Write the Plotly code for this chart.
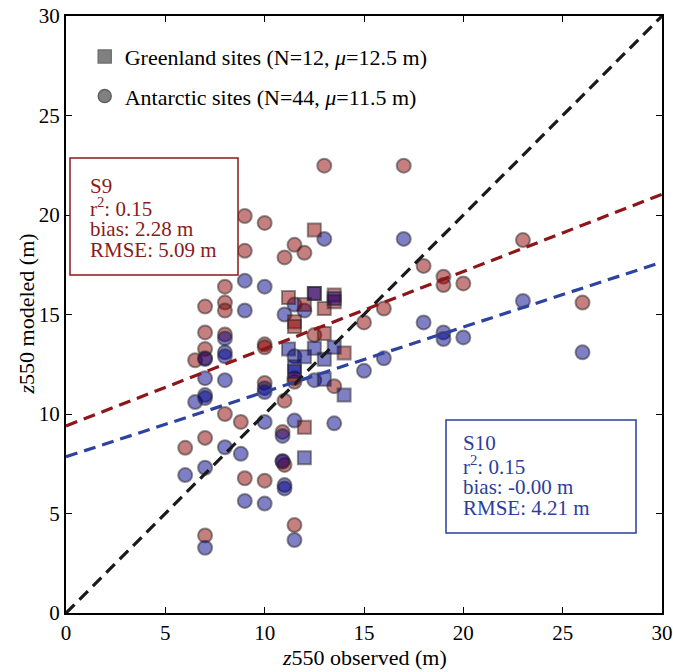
import plotly.graph_objects as go

# ---------------- data ----------------
# Antarctic sites (N=44): observed z550, modeled S9, modeled S10
ant_obs = [6.0, 6.5, 7.0, 7.0, 7.0, 7.0, 7.0, 7.0, 8.0, 8.0, 8.0, 8.0, 8.0,
           8.8, 9.0, 9.0, 9.0, 10.0, 10.0, 10.0, 10.0, 10.0, 11.0, 11.0, 10.9,
           10.9, 11.0, 11.5, 11.5, 11.5, 11.5, 12.0, 12.5, 13.0, 13.5, 15.0,
           16.0, 17.0, 18.0, 19.0, 19.0, 20.0, 23.0, 26.0]
ant_s9 = [8.3, 12.7, 15.4, 14.1, 13.27, 12.8, 8.8, 3.9, 16.4, 15.6, 15.2, 14.0, 10.0,
          9.6, 19.95, 18.2, 6.77, 19.6, 13.5, 13.35, 11.56, 6.65, 17.87, 10.67, 9.1,
          7.6, 7.44, 18.5, 11.62, 11.8, 4.42, 18.1, 13.97, 22.48, 11.4, 14.6,
          15.3, 22.48, 17.44, 16.9, 16.48, 16.56, 18.74, 15.6]
ant_s10 = [6.93, 10.6, 11.8, 12.76, 10.95, 10.8, 7.3, 3.28, 13.8, 13.1, 12.9, 11.7, 8.33,
           8.0, 16.7, 15.2, 5.63, 16.4, 11.3, 11.1, 9.6, 5.5, 15.0, 6.43, 8.9,
           7.64, 6.26, 15.5, 12.9, 9.67, 3.67, 15.2, 11.7, 18.8, 9.53, 12.17,
           12.8, 18.8, 14.6, 14.1, 13.77, 13.85, 15.68, 13.1]

# Greenland sites (N=12)
grl_obs = [11.2, 11.5, 11.5, 12.0, 12.0, 12.5, 12.5, 13.0, 13.0, 13.5, 13.5, 14.0]
grl_s9 = [15.85, 14.64, 14.4, 9.33, 15.5, 19.25, 16.06, 15.3, 14.05, 15.98, 15.64, 13.07]
grl_s10 = [13.27, 12.38, 12.13, 7.8, 12.88, 13.3, 16.06, 12.75, 11.74, 15.8, 13.35, 10.95]

# regression fits (intercept, slope)
fit_s9 = (9.4, 0.388)
fit_s10 = (7.85, 0.326)
axis_range = [0, 30]
ticks = [0, 5, 10, 15, 20, 25, 30]

stats_s9 = ["S9", "r<sup>2</sup>: 0.15", "bias: 2.28 m", "RMSE: 5.09 m"]
stats_s10 = ["S10", "r<sup>2</sup>: 0.15", "bias: -0.00 m", "RMSE: 4.21 m"]

# ---------------- styles ----------------
FONT = "Liberation Serif"
RED_FILL = "rgba(139,0,0,0.5)"
BLUE_FILL = "rgba(0,0,139,0.5)"
EDGE = "rgba(40,40,40,0.5)"
RED_LINE = "#8E1519"
BLUE_LINE = "#2E43A0"
RED_TXT = "#8B1A1A"
BLUE_TXT = "#2B3E9C"

# target plot area on screen (pixels); page body margin removed below
L, R, T, B = 66, 662, 16, 613
PW, PH = R - L, B - T
FW, FH = 673, 672

def px_x(p):
    return (p - L) / PW

def px_y(p):
    return (B - p) / PH

fig = go.Figure()

def pts(x, y, fill, symbol, size):
    return go.Scatter(x=x, y=y, mode="markers", showlegend=False, hoverinfo="skip",
                      marker=dict(symbol=symbol, size=size, color=fill,
                                  line=dict(color=EDGE, width=2)))

fig.add_trace(pts(ant_obs, ant_s9, RED_FILL, "circle", 14))
fig.add_trace(pts(ant_obs, ant_s10, BLUE_FILL, "circle", 14))
fig.add_trace(pts(grl_obs, grl_s9, RED_FILL, "square", 13))
fig.add_trace(pts(grl_obs, grl_s10, BLUE_FILL, "square", 13))

def line(b, m, color):
    xs = axis_range
    ys = [b + m * v for v in xs]
    return go.Scatter(x=xs, y=ys, mode="lines", showlegend=False, hoverinfo="skip",
                      line=dict(color=color, width=3.2, dash="12px,7px"))

fig.add_trace(line(0, 1, "#1a1a1a"))
fig.add_trace(line(*fit_s9, RED_LINE))
fig.add_trace(line(*fit_s10, BLUE_LINE))

# legend entries
fig.add_trace(go.Scatter(x=[None], y=[None], mode="markers", legendgroup="g",
                         name="Greenland sites (N=12, <i>μ</i>=12.5 m)",
                         marker=dict(symbol="square", size=13, color="#808080",
                                     line=dict(color="#707070", width=1.5))))
fig.add_trace(go.Scatter(x=[None], y=[None], mode="markers", legendgroup="a",
                         name="Antarctic sites (N=44, <i>μ</i>=11.5 m)",
                         marker=dict(symbol="circle", size=13, color="#808080",
                                     line=dict(color="#606060", width=1.5))))

axis_common = dict(range=axis_range, tickvals=ticks, showgrid=False, zeroline=False,
                   showline=True, linecolor="black", linewidth=2, mirror="ticks",
                   ticks="inside", ticklen=6, tickwidth=1.2, tickcolor="black",
                   automargin=False, ticklabeloverflow="allow",
                   tickfont=dict(family=FONT, size=21, color="black"))

fig.update_layout(
    width=FW, height=FH,
    margin=dict(l=L, r=FW - R, t=T, b=FH - B),
    paper_bgcolor="white", plot_bgcolor="white",
    xaxis=axis_common,
    yaxis=axis_common,
    legend=dict(x=0.0314, y=0.967, xanchor="left", yanchor="top",
                bgcolor="rgba(0,0,0,0)", tracegroupgap=8,
                font=dict(family=FONT, size=22, color="black")),
)

# axis titles
fig.add_annotation(xref="paper", yref="paper", x=0.5, y=px_y(657),
                   xanchor="center", yanchor="middle", showarrow=False,
                   text="<i>z</i>550 observed (m)",
                   font=dict(family=FONT, size=22, color="black"))
fig.add_annotation(xref="paper", yref="paper", x=px_x(26), y=0.5, textangle=-90,
                   xanchor="center", yanchor="middle", showarrow=False,
                   text="<i>z</i>550 modeled (m)",
                   font=dict(family=FONT, size=22, color="black"))

# stat boxes
fig.add_shape(type="rect", xref="paper", yref="paper",
              x0=px_x(70), x1=px_x(238), y0=px_y(275), y1=px_y(158),
              line=dict(color=RED_TXT, width=1.5), fillcolor="white", layer="above")
fig.add_shape(type="rect", xref="paper", yref="paper",
              x0=px_x(446), x1=px_x(636), y0=px_y(533), y1=px_y(420),
              line=dict(color=BLUE_TXT, width=1.5), fillcolor="white", layer="above")

def stat_text(lines, x_px, y_first, step, color):
    for i, t in enumerate(lines):
        fig.add_annotation(xref="paper", yref="paper", x=px_x(x_px),
                           y=px_y(y_first + i * step),
                           xanchor="left", yanchor="middle", align="left",
                           showarrow=False, text=t,
                           font=dict(family=FONT, size=21, color=color))

stat_text(stats_s9, 88, 186, 21.3, RED_TXT)
stat_text(stats_s10, 461, 443.5, 21.6, BLUE_TXT)

fig.write_html("out.html",
               config={"displayModeBar": False},
               post_script="document.body.style.margin='0px';"
                           "document.body.style.overflow='hidden';")
